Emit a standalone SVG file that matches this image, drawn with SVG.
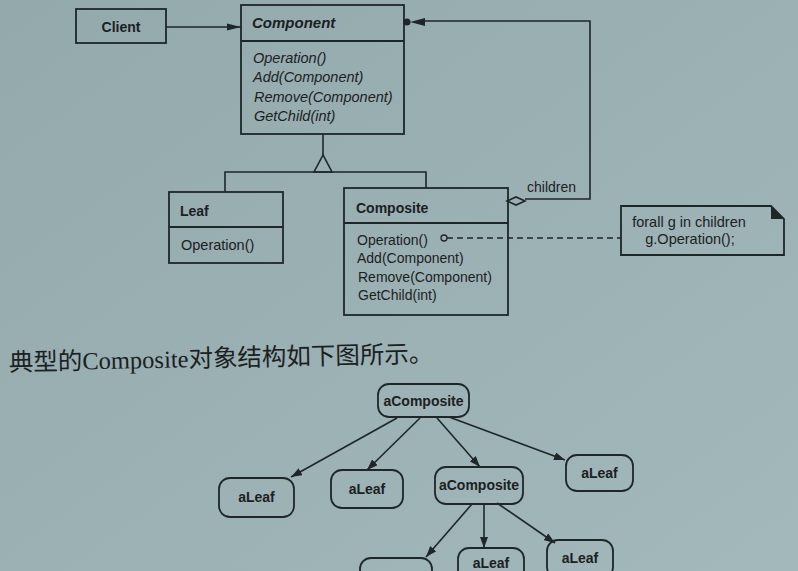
<svg xmlns="http://www.w3.org/2000/svg" width="798" height="571" viewBox="0 0 798 571">
<style>
.bx{fill:none;stroke:#1f2628;stroke-width:1.8}
.ln{fill:none;stroke:#1f2628;stroke-width:1.6}
.t{font-family:"Liberation Sans",Arial,sans-serif;fill:#1b2123;font-size:14px}
.op{font-size:14.5px}
.b{font-weight:bold}
.i{font-style:italic}
.node{fill:none;stroke:#1f2628;stroke-width:1.8}
</style>
<defs>
<marker id="ah" viewBox="0 0 11 8" refX="11" refY="4" markerWidth="11" markerHeight="8" markerUnits="userSpaceOnUse" orient="auto">
<path d="M0,0 L11,4 L0,8 Z" fill="#1f2628"/>
</marker>
<marker id="ahl" viewBox="0 0 14 8" refX="14" refY="4" markerWidth="14" markerHeight="8" markerUnits="userSpaceOnUse" orient="auto">
<path d="M0,0.5 L14,4 L0,7.5 Z" fill="#1f2628"/>
</marker>
<linearGradient id="bg" x1="0" y1="0" x2="1" y2="1">
<stop offset="0" stop-color="#93a9ac"/>
<stop offset="1" stop-color="#a3b8ba"/>
</linearGradient>
</defs>
<rect x="0" y="0" width="798" height="571" fill="url(#bg)"/>

<g id="connectors">
<line class="ln" x1="166" y1="27" x2="241" y2="27" marker-end="url(#ahl)"/>
<path class="ln" d="M425,21 H590 V199 H525"/>
<path d="M410,22 L425,18 L425,26 Z" fill="#1f2628"/>
<circle cx="407" cy="22" r="3.5" fill="#1f2628"/>
<path d="M507,201 L516,197 L525,201 L516,205 Z" fill="#9bb0b2" stroke="#1f2628" stroke-width="1.6"/>
<text class="t" x="527" y="192">children</text>
<path class="ln" d="M323,134 V155"/>
<path d="M323,155 L314,172 L332,172 Z" fill="#9bb0b2" stroke="#1f2628" stroke-width="1.6"/>
<path class="ln" d="M225,192 V172 H426 V188"/>
<circle cx="444" cy="238" r="3" fill="none" stroke="#1f2628" stroke-width="1.3"/>
<line class="ln" x1="447" y1="238" x2="621" y2="238" stroke-dasharray="6,4"/>
<line class="ln" x1="397" y1="418" x2="291" y2="477" marker-end="url(#ah)"/>
<line class="ln" x1="420" y1="418" x2="367" y2="470" marker-end="url(#ah)"/>
<line class="ln" x1="437" y1="418" x2="480" y2="467" marker-end="url(#ah)"/>
<line class="ln" x1="449" y1="417" x2="565" y2="460" marker-end="url(#ah)"/>
<line class="ln" x1="472" y1="504" x2="426" y2="557" marker-end="url(#ah)"/>
<line class="ln" x1="484" y1="504" x2="484" y2="548" marker-end="url(#ah)"/>
<line class="ln" x1="497" y1="503" x2="555" y2="543" marker-end="url(#ah)"/>
</g>

<g id="client">
<rect class="bx" x="76" y="9" width="90" height="34"/>
<text class="t b" x="121" y="32" text-anchor="middle">Client</text>
</g>

<g id="component">
<rect class="bx" x="241" y="5" width="163" height="129"/>
<line class="bx" x1="241" y1="41" x2="404" y2="41"/>
<text class="t b i" x="252" y="28" style="font-size:15px">Component</text>
<text class="t i op" x="253" y="63">Operation()</text>
<text class="t i op" x="253" y="82">Add(Component)</text>
<text class="t i op" x="254" y="102">Remove(Component)</text>
<text class="t i op" x="254" y="121">GetChild(int)</text>
</g>

<g id="leaf">
<rect class="bx" x="169" y="192" width="114" height="71"/>
<line class="bx" x1="169" y1="227" x2="283" y2="227"/>
<text class="t b" x="180" y="216">Leaf</text>
<text class="t op" x="181" y="250">Operation()</text>
</g>

<g id="composite">
<rect class="bx" x="344" y="188" width="164" height="127"/>
<line class="bx" x1="344" y1="223" x2="508" y2="223"/>
<text class="t b" x="356" y="213">Composite</text>
<text class="t" x="357" y="245">Operation()</text>
<text class="t" x="357" y="263">Add(Component)</text>
<text class="t" x="358" y="282">Remove(Component)</text>
<text class="t" x="358" y="300">GetChild(int)</text>
</g>

<g id="note">
<path class="bx" d="M621,206 H771 L784,219 V255 H621 Z"/>
<path d="M771,206 L784,219 L771,219 Z" fill="#1f2628"/>
<text class="t op" x="689" y="227" text-anchor="middle">forall g in children</text>
<text class="t op" x="690" y="244" text-anchor="middle">g.Operation();</text>
</g>

<g id="caption">
<text x="9" y="371" transform="rotate(-1.2 9 371)" style="font-family:'Liberation Serif','Noto Sans CJK SC',serif;font-size:24.5px;fill:#1b2123">典型的Composite对象结构如下图所示。</text>
</g>

<g id="aComposite1">
<rect class="node" x="378" y="384" width="91" height="33" rx="11"/>
<text class="t b" x="423.5" y="406" text-anchor="middle">aComposite</text>
</g>
<g id="aLeaf1">
<rect class="node" x="219" y="478" width="75" height="39" rx="11"/>
<text class="t b" x="256.5" y="502" text-anchor="middle">aLeaf</text>
</g>
<g id="aLeaf2">
<rect class="node" x="331" y="470" width="72" height="38" rx="11"/>
<text class="t b" x="367" y="494" text-anchor="middle">aLeaf</text>
</g>
<g id="aComposite2">
<rect class="node" x="435" y="467" width="88" height="37" rx="11"/>
<text class="t b" x="479" y="490" text-anchor="middle">aComposite</text>
</g>
<g id="aLeaf4">
<rect class="node" x="566" y="455" width="67" height="36" rx="11"/>
<text class="t b" x="599.5" y="478" text-anchor="middle">aLeaf</text>
</g>
<g id="aLeaf5">
<rect class="node" x="360" y="558" width="72" height="40" rx="11"/>
</g>
<g id="aLeaf6">
<rect class="node" x="458" y="548" width="66" height="40" rx="11"/>
<text class="t b" x="491" y="568" text-anchor="middle">aLeaf</text>
</g>
<g id="aLeaf7">
<rect class="node" x="547" y="540" width="66" height="38" rx="11"/>
<text class="t b" x="580" y="563" text-anchor="middle">aLeaf</text>
</g>
</svg>
